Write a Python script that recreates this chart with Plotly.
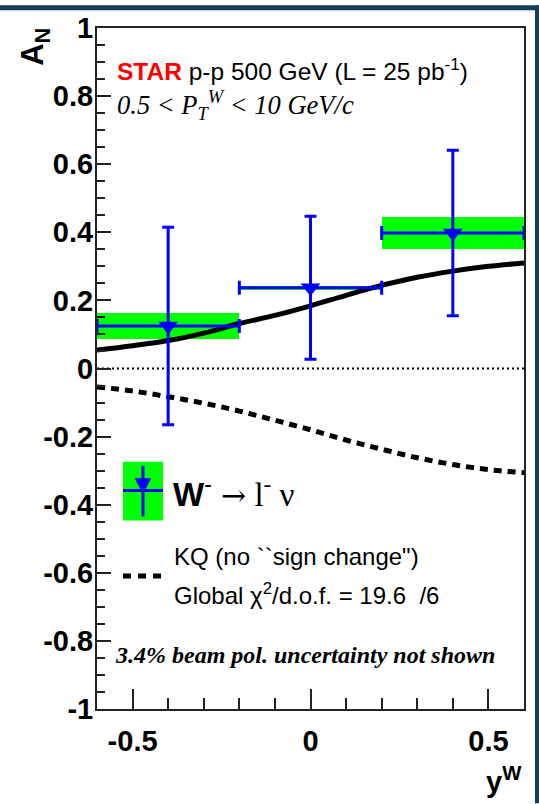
import plotly.graph_objects as go

# ---- data -------------------------------------------------------------
rap = [-0.4, 0.0, 0.4]                 # y^W bin centres
rap_halfwidth = [0.2, 0.2, 0.2]
an_value = [0.125, 0.237, 0.398]       # measured A_N
an_stat = [0.29, 0.21, 0.243]          # statistical uncertainty
an_sys = [0.038, 0.006, 0.048]         # systematic uncertainty

theory_x = [-0.6, -0.5, -0.4, -0.3, -0.2, -0.1, 0.0, 0.1, 0.2, 0.3, 0.4, 0.5, 0.6]
kq_sign_change = [0.054, 0.067, 0.082, 0.104, 0.132, 0.156, 0.184, 0.215, 0.244, 0.268, 0.286, 0.300, 0.310]
kq_no_sign_change = [-0.054, -0.066, -0.083, -0.102, -0.125, -0.152, -0.180, -0.210, -0.237, -0.262, -0.282, -0.297, -0.306]

y_tickvals = [1, 0.8, 0.6, 0.4, 0.2, 0, -0.2, -0.4, -0.6, -0.8, -1]
y_ticktext = ["1", "0.8", "0.6", "0.4", "0.2", "0", "-0.2", "-0.4", "-0.6", "-0.8", "-1"]
x_tickvals = [-0.5, 0, 0.5]
x_ticktext = ["-0.5", "0", "0.5"]

# ---- layout helpers (pixel -> paper) ---------------------------------
W, H = 539, 804
L, R, T, B = 97, 524, 23, 709


def fx(p):
    return (p - L) / (R - L)


def fy(p):
    return (B - p) / (B - T)


SANS = "Liberation Sans, Arial, Helvetica, sans-serif"
SERIF = "Liberation Serif, Times New Roman, serif"
BLUE = "#0000ff"
GREEN = "#00ff00"

fig = go.Figure()

# systematic boxes
fig.add_trace(go.Bar(
    x=rap,
    y=[2 * s for s in an_sys],
    base=[v - s for v, s in zip(an_value, an_sys)],
    width=[2 * w for w in rap_halfwidth],
    marker=dict(color=GREEN, line=dict(width=0)),
    showlegend=False,
    hoverinfo="skip",
))

# theory curves
fig.add_trace(go.Scatter(
    x=theory_x, y=kq_sign_change, mode="lines",
    line=dict(color="black", width=5, shape="spline"),
    showlegend=False,
))
fig.add_trace(go.Scatter(
    x=theory_x, y=kq_no_sign_change, mode="lines",
    line=dict(color="black", width=5, shape="spline", dash="8px,6px"),
    showlegend=False,
))

# data points with statistical errors
fig.add_trace(go.Scatter(
    x=rap, y=an_value, mode="markers",
    marker=dict(symbol="triangle-down", size=17, color=BLUE),
    error_y=dict(type="data", array=an_stat, visible=True, color=BLUE, thickness=3, width=6),
    error_x=dict(type="data", array=rap_halfwidth, visible=True, color=BLUE, thickness=3, width=7),
    showlegend=False,
))

shapes = [
    # dotted zero line
    dict(type="line", xref="paper", yref="y", x0=0, x1=1, y0=0, y1=0,
         line=dict(color="black", width=2, dash="2px,3px"), layer="below"),
    # dark page border (top and right)
    dict(type="rect", xref="paper", yref="paper", x0=fx(0), x1=fx(W), y0=fy(5), y1=fy(0),
         fillcolor="#133f5b", line=dict(width=0)),
    dict(type="rect", xref="paper", yref="paper", x0=fx(535), x1=fx(W), y0=fy(H), y1=fy(0),
         fillcolor="#133f5b", line=dict(width=0)),
    # legend: data symbol
    dict(type="rect", xref="paper", yref="paper", x0=fx(123), x1=fx(163), y0=fy(519), y1=fy(460),
         fillcolor=GREEN, line=dict(width=0)),
    dict(type="line", xref="paper", yref="paper", x0=fx(143), x1=fx(143), y0=fy(515), y1=fy(464),
         line=dict(color=BLUE, width=3)),
    dict(type="line", xref="paper", yref="paper", x0=fx(123), x1=fx(163), y0=fy(489), y1=fy(489),
         line=dict(color=BLUE, width=3)),
    dict(type="path", xref="paper", yref="paper",
         path=f"M {fx(135.5)} {fy(477)} L {fx(150.5)} {fy(477)} L {fx(143)} {fy(492)} Z",
         fillcolor=BLUE, line=dict(color=BLUE, width=1)),
    # legend: dashed theory line
    dict(type="line", xref="paper", yref="paper", x0=fx(123), x1=fx(163), y0=fy(575), y1=fy(575),
         line=dict(color="black", width=5, dash="8px,7px")),
]

annotations = [
    dict(x=fx(115), y=fy(65), xanchor="left", yanchor="middle",
         text="<b><span style='color:#ff0000'>STAR</span></b> p-p 500 GeV (L = 25 pb<sup>-1</sup>)",
         font=dict(family=SANS, size=24.5, color="black")),
    dict(x=fx(115), y=fy(101), xanchor="left", yanchor="middle",
         text="<i>0.5 &lt; P<sub>T</sub><sup>W</sup> &lt; 10 GeV/c</i>",
         font=dict(family=SERIF, size=26.5, color="black")),
    dict(x=fx(171), y=fy(490), xanchor="left", yanchor="middle",
         text="<b>W</b><sup>-</sup> <span style='font-family:DejaVu Serif;font-size:30px'>\u2192</span>"
              "<span style='font-family:Liberation Serif'> l<sup>-</sup> \u03bd</span>",
         font=dict(family=SANS, size=33, color="black")),
    dict(x=fx(172), y=fy(555), xanchor="left", yanchor="middle",
         text="KQ (no ``sign change\")",
         font=dict(family=SANS, size=24, color="black")),
    dict(x=fx(172), y=fy(593), xanchor="left", yanchor="middle",
         text="Global \u03c7<sup>2</sup>/d.o.f. = 19.6 \u00a0/6",
         font=dict(family=SANS, size=24, color="black")),
    dict(x=fx(113), y=fy(655), xanchor="left", yanchor="middle",
         text="<b><i>3.4% beam pol. uncertainty not shown</i></b>",
         font=dict(family=SERIF, size=24, color="black")),
    # axis titles
    dict(x=fx(35), y=fy(42), xanchor="center", yanchor="middle", textangle=-90,
         text="<b>A<sub>N</sub></b>",
         font=dict(family=SANS, size=31, color="black")),
    dict(x=fx(524), y=fy(781), xanchor="right", yanchor="middle",
         text="<b>y<sup>W</sup></b>",
         font=dict(family=SANS, size=29, color="black")),
]

for a in annotations:
    a.update(xref="paper", yref="paper", showarrow=False)

fig.update_layout(
    width=W, height=H,
    margin=dict(l=L, r=W - R, t=T, b=H - B, pad=0),
    paper_bgcolor="white", plot_bgcolor="white",
    showlegend=False,
    shapes=shapes,
    annotations=annotations,
    bargap=0,
)

fig.update_xaxes(
    range=[-0.6, 0.6],
    showgrid=False, zeroline=False,
    showline=True, linecolor="#222222", linewidth=2, mirror=True,
    tickmode="array", tickvals=x_tickvals, ticktext=x_ticktext,
    ticks="inside", ticklen=20, tickwidth=2, tickcolor="#222222",
    ticklabelstandoff=5,
    tickfont=dict(family=SANS, size=29, color="black", weight="bold"),
    minor=dict(dtick=0.1, tick0=0, ticks="inside", ticklen=11, tickwidth=2, tickcolor="#222222", showgrid=False),
)
fig.update_yaxes(
    range=[-1, 1],
    showgrid=False, zeroline=False,
    showline=True, linecolor="#222222", linewidth=2, mirror=True,
    tickmode="array", tickvals=y_tickvals, ticktext=y_ticktext,
    ticks="inside", ticklen=14, tickwidth=2, tickcolor="#222222",
    ticklabelstandoff=-4,
    tickfont=dict(family=SANS, size=29, color="black", weight="bold"),
    minor=dict(dtick=0.05, tick0=0, ticks="inside", ticklen=8, tickwidth=2, tickcolor="#222222", showgrid=False),
)

fig.write_html("out.html")
